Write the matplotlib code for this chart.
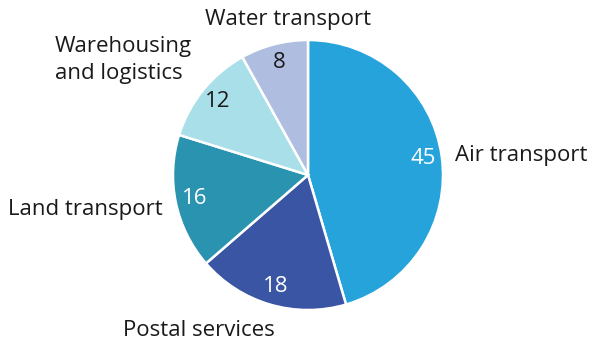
import matplotlib
matplotlib.use("Agg")
import matplotlib.pyplot as plt

# shares by sector, clockwise from 12 o'clock
sectors = ["Air transport", "Postal services", "Land transport",
           "Warehousing\nand logistics", "Water transport"]
shares = [45, 18, 16, 12, 8]
colors = ["#27a3dc", "#3955a4", "#2993b0", "#a9dfe9", "#afbde1"]
num_colors = ["white", "white", "white", "#1a1a1a", "#1a1a1a"]

# outside label anchors (pixels, from top-left) and alignment
label_pos = [(455, 155, "left"), (123, 330, "left"), (8, 210, "left"),
             (55, 60, "left"), (205, 20, "left")]

plt.rcParams['font.family'] = ['Open Sans', 'DejaVu Sans']

W, H = 590, 344
fig = plt.figure(figsize=(W / 100, H / 100), dpi=100)
ax = fig.add_axes([0, 0, 1, 1])

cx, cy, r = 308, H - 175, 135
wedges, texts = ax.pie(shares, colors=colors, startangle=90, counterclock=False,
                       center=(cx, cy), radius=r, labels=[str(s) for s in shares],
                       labeldistance=0.86, frame=True,
                       wedgeprops=dict(edgecolor="white", linewidth=1.8),
                       textprops=dict(fontsize=16))
for t, c in zip(texts, num_colors):
    t.set_color(c)
    t.set_horizontalalignment("center")
    t.set_verticalalignment("center")

ax.set_xlim(0, W)
ax.set_ylim(0, H)
ax.set_aspect("equal")
ax.axis("off")

for name, (x, y, ha) in zip(sectors, label_pos):
    ax.text(x, H - y, name, ha=ha, va="center", fontsize=16,
            color="#1a1a1a", linespacing=1.4)

fig.savefig("out.png", dpi=100)
